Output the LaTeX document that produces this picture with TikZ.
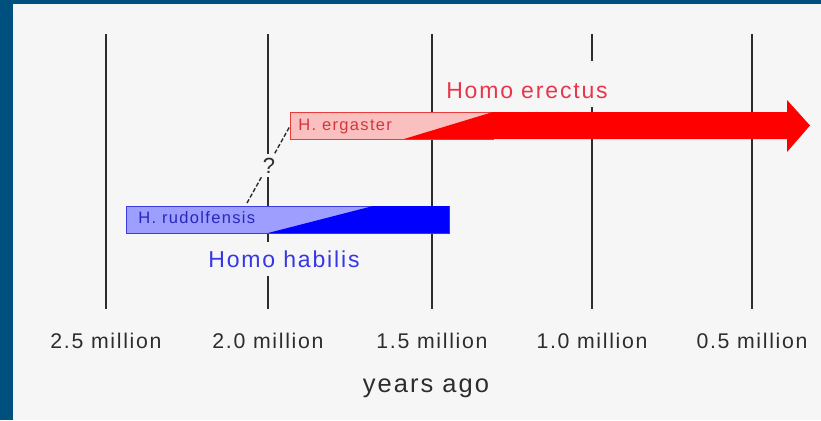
\documentclass[tikz,border=0pt]{standalone}
\usepackage{fontspec}
\usepackage{tikz}
\usetikzlibrary{positioning}
\newfontfamily\chartfont[LetterSpace=8]{Liberation Sans}
\definecolor{frameblue}{RGB}{0, 80, 127}
\definecolor{paper}{RGB}{246, 246, 246}
\definecolor{tickgray}{RGB}{45, 45, 45}
\definecolor{ergpink}{RGB}{250, 192, 192}
\definecolor{ergline}{RGB}{232, 60, 60}
\definecolor{ergtext}{RGB}{210, 55, 65}
\definecolor{erectred}{RGB}{232, 55, 75}
\definecolor{rudfill}{RGB}{158, 158, 255}
\definecolor{rudline}{RGB}{60, 60, 225}
\definecolor{rudtext}{RGB}{40, 40, 185}
\definecolor{habblue}{RGB}{55, 55, 230}
\tikzset{
  era/.style={draw=tickgray, line width=1.1pt},
  yearlbl/.style={font=\chartfont\fontsize{12.1}{14}\selectfont, text=tickgray,
                  anchor=base, inner sep=0pt},
  taxon/.style={font=\chartfont\fontsize{13.1}{15}\selectfont, text=#1,
                fill=paper, anchor=base, inner xsep=1.5pt, inner ysep=5pt},
  species/.style={font=\chartfont\fontsize{9.4}{11}\selectfont, text=#1,
                  anchor=base west, inner sep=0pt},
  spanbar/.style={draw=#1, line width=0.6pt, anchor=north west,
                  minimum height=0.54cm, inner sep=0pt},
  qline/.style={draw=tickgray, line width=0.8pt, dash pattern=on 2.4pt off 1.2pt},
  qmark/.style={font=\chartfont\fontsize{12.5}{14}\selectfont, text=tickgray,
                fill=paper, anchor=base, inner sep=2pt},
}

\begin{document}
\begin{tikzpicture}[x=0.02cm, y=-0.02cm]
  % frame and paper
  \fill[frameblue] (0,0) rectangle (821,420);
  \fill[paper] (13,4) rectangle (821,420);
  \useasboundingbox (0,0) rectangle (821,420);
  % time axis
  \foreach \x/\t in {106/2.5, 268/2.0, 432/1.5, 592/1.0, 752/0.5} {
    \draw[era] (\x,34) -- (\x,309);
    \node[yearlbl] at (\x,348) {\t\ million};
  }
  \node[yearlbl, font=\chartfont\fontsize{14.5}{17}\selectfont] (ago) at (426,392) {years ago};
  % group names
  \node[taxon=erectred, text height=16pt] (erectus) at (527,98) {Homo\hspace{.35em}erectus};
  \node[taxon=habblue] (habilis) at (284,267) {Homo\hspace{.35em}habilis};
  % erectus bar and arrow
  \node[spanbar=ergline, fill=ergpink, minimum width=4.06cm] (ergbar) at (290,112) {};
  \fill[red] (404,139) -- (493,112) -- (787,112) -- (787,100) -- (810,125.5)
    -- (787,152) -- (787,139) -- cycle;
  \node[species=ergtext] (erg) at (298,130) {H. ergaster};
  % habilis bar
  \node[spanbar=rudline, fill=rudfill, minimum width=6.46cm] (rudbar) at (126,206) {};
  \fill[blue] (268,233) -- (373,206) -- (449,206) -- (449,233) -- cycle;
  \node[species=rudtext] (rud) at (138,223) {H. rudolfensis};
  % uncertain link
  \coordinate (qlow) at (247,203);
  \draw[qline] (qlow) -- (ergbar.west);
  \node[qmark] (q) at (269,173) {?};
\end{tikzpicture}
\end{document}
